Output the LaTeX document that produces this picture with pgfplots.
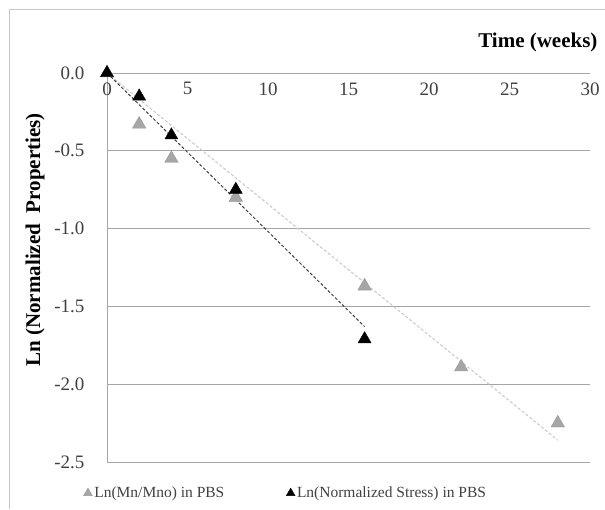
\documentclass[border=0pt]{standalone}
\usepackage{pgfplots}
\pgfplotsset{compat=1.18}
\usepackage{fontspec}
\setmainfont{Liberation Serif}
\definecolor{gridgray}{HTML}{A6A6A6}
\definecolor{ticktext}{HTML}{404040}
\definecolor{mgray}{HTML}{A6A6A6}
\definecolor{mgrayedge}{HTML}{969696}
\definecolor{trendgray}{HTML}{C8C8C8}
\definecolor{trendblack}{HTML}{404040}
\begin{document}
\begin{tikzpicture}[x=1pt,y=1pt]
\path[use as bounding box] (0,0) rectangle (605,509);
\draw[color=gray!45, line width=1pt] (9,0) -- (9,499) -- (605,499);
\begin{axis}[
  at={(107pt,47pt)}, anchor=south west,
  scale only axis, width=483pt, height=389pt,
  xmin=0, xmax=30, ymin=-2.5, ymax=0,
  axis x line=middle, axis y line=middle,
  axis line style={-, color=gridgray, line width=0.8pt},
  hide obscured x ticks=false, hide obscured y ticks=false,
  xtick={0,5,10,15,20,25,30},
  ytick={0,-0.5,-1,-1.5,-2,-2.5},
  major tick length=0pt,
  ymajorgrids, grid style={color=gridgray, line width=0.8pt},
  /pgf/number format/assume math mode=true,
  yticklabel style={/pgf/number format/fixed, /pgf/number format/fixed zerofill, /pgf/number format/precision=1, font=\fontsize{19}{22}\selectfont, color=ticktext, xshift=-19pt},
  xticklabel style={font=\fontsize{19}{22}\selectfont, color=ticktext, yshift=-6pt},
  clip=false,
  legend columns=2,
  legend style={at={(-0.055,-0.08)}, anchor=west, draw=none, fill=none,
    font=\fontsize{15.5}{18}\selectfont, text=ticktext,
    /tikz/every even column/.append style={column sep=60pt}},
  legend image code/.code={\draw[#1, mark size=5pt] plot coordinates {(0pt,0pt)};},
]
\addplot[forget plot, dashed, dash pattern=on 3pt off 2pt, color=trendgray, line width=1pt] coordinates {(0,0) (28,-2.36)};
\addplot[forget plot, dashed, dash pattern=on 3pt off 2pt, color=trendblack, line width=1pt] coordinates {(0,0) (16,-1.63)};
\addplot[only marks, mark=triangle*, mark size=7.8pt, mark options={fill=mgray, draw=mgrayedge}] coordinates {
 (0,0) (2,-0.33) (4,-0.55) (8,-0.80) (16,-1.37) (22,-1.89) (28,-2.25)};
\addlegendentry{Ln(Mn/Mno) in PBS}
\addplot[only marks, mark=triangle*, mark size=7.5pt, mark options={fill=black, draw=black}] coordinates {
 (0,0) (2,-0.15) (4,-0.40) (8,-0.75) (16,-1.71)};
\addlegendentry{Ln(Normalized Stress) in PBS}
\end{axis}
\node[anchor=east, font=\fontsize{21}{24}\selectfont\bfseries] at (601,467) {Time (weeks)};
\node[rotate=90, font=\fontsize{21}{24}\selectfont\bfseries] at (35,269) {Ln (Normalized\ \ Properties)};
\end{tikzpicture}
\end{document}
